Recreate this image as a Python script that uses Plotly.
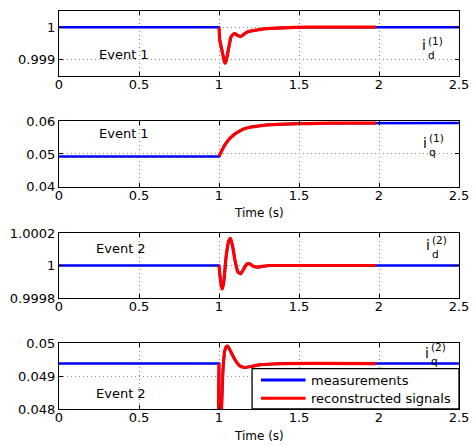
import plotly.graph_objects as go

# ---- data -------------------------------------------------------------
# Event 1, d-axis current: transient after the event at t = 1 s
t_d1 = [1.0, 1.005, 1.02, 1.03, 1.037, 1.045, 1.06, 1.075, 1.09, 1.10, 1.115,
        1.135, 1.155, 1.18, 1.22, 1.28, 1.40, 1.55, 1.98]
rec_d1 = [1.0, 0.9996, 0.99925, 0.999, 0.99889, 0.99897, 0.99935, 0.9997,
          0.99979, 0.9998, 0.99975, 0.99971, 0.99978, 0.99986, 0.9999,
          0.99995, 0.99998, 1.0, 1.0]

# Event 1, q-axis current: step to a new operating point
t_q1 = [1.0, 1.01, 1.02, 1.037, 1.06, 1.08, 1.10, 1.12, 1.15, 1.19, 1.243,
        1.30, 1.367, 1.45, 1.55, 1.70, 1.98]
rec_q1 = [0.04925, 0.0503, 0.0513, 0.05275, 0.0543, 0.0553, 0.0561, 0.0567,
          0.0575, 0.0581, 0.0585, 0.05885, 0.0590, 0.05915, 0.05925, 0.05935,
          0.0594]

# Event 2, d-axis current: damped oscillation
t_d2 = [1.0, 1.008, 1.015, 1.021, 1.03, 1.045, 1.06, 1.072, 1.085, 1.10,
        1.118, 1.136, 1.155, 1.175, 1.192, 1.215, 1.24, 1.27, 1.32, 1.40, 1.98]
rec_d2 = [1.0, 0.99992, 0.99987, 0.999855, 0.9999, 1.00006, 1.00015,
          1.000168, 1.00012, 1.00003, 0.99996, 0.99995, 0.99998, 1.00001,
          1.00001, 0.999995, 0.99999, 0.999995, 1.0, 1.0, 1.0]

# Event 2, q-axis current: sharp dip then overshoot
t_q2 = [1.0, 1.003, 1.010, 1.016, 1.025, 1.035, 1.045, 1.054, 1.07, 1.09,
        1.11, 1.13, 1.16, 1.20, 1.25, 1.30, 1.40, 1.98]
rec_q2 = [0.04938, 0.0470, 0.0470, 0.0480, 0.0492, 0.04975, 0.04989, 0.04991,
          0.04978, 0.04958, 0.04942, 0.04931, 0.04926, 0.04929, 0.04934,
          0.04936, 0.04938, 0.04938]

t_start, t_end = 0.0, 2.5

x_ticks = [0, 0.5, 1, 1.5, 2, 2.5]
x_labels = ["0", "0.5", "1", "1.5", "2", "2.5"]

y_ranges = [[0.9985, 1.0005], [0.04, 0.06], [0.9998, 1.0002], [0.048, 0.05]]
y_ticks = [[0.999, 1.0], [0.04, 0.05, 0.06], [0.9998, 1.0, 1.0002],
           [0.048, 0.049, 0.05]]
y_labels = [["0.999", "1"], ["0.04", "0.05", "0.06"],
            ["0.9998", "1", "1.0002"], ["0.048", "0.049", "0.05"]]

events = ["Event 1", "Event 1", "Event 2", "Event 2"]
sym_sub = ["d", "q", "d", "q"]
sym_sup = ["(1)", "(1)", "(2)", "(2)"]
legend_names = ["measurements", "reconstructed signals"]
legend_colors = ["#0000ff", "#ff0000"]

series = [(t_d1, rec_d1), (t_q1, rec_q1), (t_d2, rec_d2), (t_q2, rec_q2)]

# ---- layout geometry (pixels) ------------------------------------------
W, H = 473, 446
ML, MR, MT, MB = 59, 10, 4, 37
PW, PH = W - ML - MR, H - MT - MB
panels_px = [(4, 70), (116, 183), (230, 296), (342, 409)]  # top, bottom


def py(p):
    return (H - MB - p) / PH


def px(p):
    return (p - ML) / PW


FONT = "DejaVu Sans"
fig = go.Figure()
annotations = []
shapes = []

for k, (t, rec) in enumerate(series):
    xa = "x" if k == 0 else f"x{k + 1}"
    ya = "y" if k == 0 else f"y{k + 1}"
    meas_t = [t_start] + t + [t_end]
    meas_v = [rec[0]] + rec + [rec[-1]]
    fig.add_trace(go.Scatter(x=meas_t, y=meas_v, mode="lines",
                             line=dict(color=legend_colors[0], width=2.6),
                             name=legend_names[0], showlegend=False,
                             xaxis=xa, yaxis=ya))
    fig.add_trace(go.Scatter(x=t, y=rec, mode="lines",
                             line=dict(color=legend_colors[1], width=3.2,
                                       shape="spline", smoothing=0.6),
                             name=legend_names[1], showlegend=False,
                             xaxis=xa, yaxis=ya))

    top, bot = panels_px[k]
    common = dict(showline=True, linecolor="black", linewidth=1.3,
                  mirror="ticks", ticks="inside", ticklen=4,
                  tickcolor="black", showgrid=True, gridcolor="#8a8a8a",
                  griddash="1px,3px", gridwidth=1, zeroline=False,
                  ticklabeloverflow="allow",
                  tickfont=dict(family=FONT, size=13, color="black"))
    fig.layout[("xaxis" if k == 0 else f"xaxis{k + 1}")] = dict(
        domain=[0, 1], range=[t_start, t_end], anchor=ya,
        tickvals=x_ticks, ticktext=x_labels, ticklabelstandoff=-4, **common)
    fig.layout[("yaxis" if k == 0 else f"yaxis{k + 1}")] = dict(
        domain=[py(bot), py(top)], range=y_ranges[k], anchor=xa,
        tickvals=y_ticks[k], ticktext=y_labels[k], **common)

# event labels
event_pos = [(125, 48.5), (125, 129), (122, 246), (122, 393)]
for k, (ex, ey) in enumerate(event_pos):
    annotations.append(dict(x=px(ex), y=py(ey), xref="paper", yref="paper",
                            text=events[k], showarrow=False,
                            xanchor="center", yanchor="middle",
                            font=dict(family=FONT, size=13, color="black")))

# signal symbols: "i" followed by a stacked superscript / subscript
# (x of the split, y of "i", y of the stacked pair)
sym_pos = [(431, 38.5, 41.5), (431.5, 138, 140.5), (435, 242.5, 244),
           (434, 352, 353)]
for k, (sx, iy, sy) in enumerate(sym_pos):
    annotations.append(dict(x=px(sx), y=py(iy), xref="paper", yref="paper",
                            text="i", showarrow=False, xanchor="right",
                            yanchor="middle", borderpad=0,
                            font=dict(family=FONT, size=14, color="black")))
    annotations.append(dict(x=px(sx), y=py(sy), xref="paper", yref="paper",
                            text=f"{sym_sup[k]}<br>{sym_sub[k]}",
                            showarrow=False, xanchor="left", align="left",
                            yanchor="middle", borderpad=0,
                            font=dict(family=FONT, size=10.5, color="black")))

# time axis titles under panels 2 and 4
for ty in (210, 436):
    annotations.append(dict(x=px(261), y=py(ty), xref="paper", yref="paper",
                            text="Time (s)", showarrow=False,
                            xanchor="center", yanchor="middle",
                            font=dict(family=FONT, size=12, color="black")))

# legend box inside the bottom panel
box = (254, 368, 463, 409)
shapes.append(dict(type="rect", xref="paper", yref="paper",
                   x0=px(box[0]), x1=px(box[2]), y0=py(box[3]), y1=py(box[1]),
                   line=dict(color="black", width=1.3), fillcolor="white",
                   layer="above"))
for j, (name, col) in enumerate(zip(legend_names, legend_colors)):
    ly = 379.5 + j * 18.5
    shapes.append(dict(type="line", xref="paper", yref="paper",
                       x0=px(263), x1=px(308), y0=py(ly), y1=py(ly),
                       line=dict(color=col, width=3), layer="above"))
    annotations.append(dict(x=px(312), y=py(ly), xref="paper", yref="paper",
                            text=name, showarrow=False, xanchor="left",
                            yanchor="middle",
                            font=dict(family=FONT, size=13, color="black")))

fig.update_layout(
    width=W, height=H,
    margin=dict(l=ML, r=MR, t=MT, b=MB, pad=0),
    paper_bgcolor="white", plot_bgcolor="white",
    annotations=annotations, shapes=shapes, showlegend=False,
)

fig.write_html("out.html")
